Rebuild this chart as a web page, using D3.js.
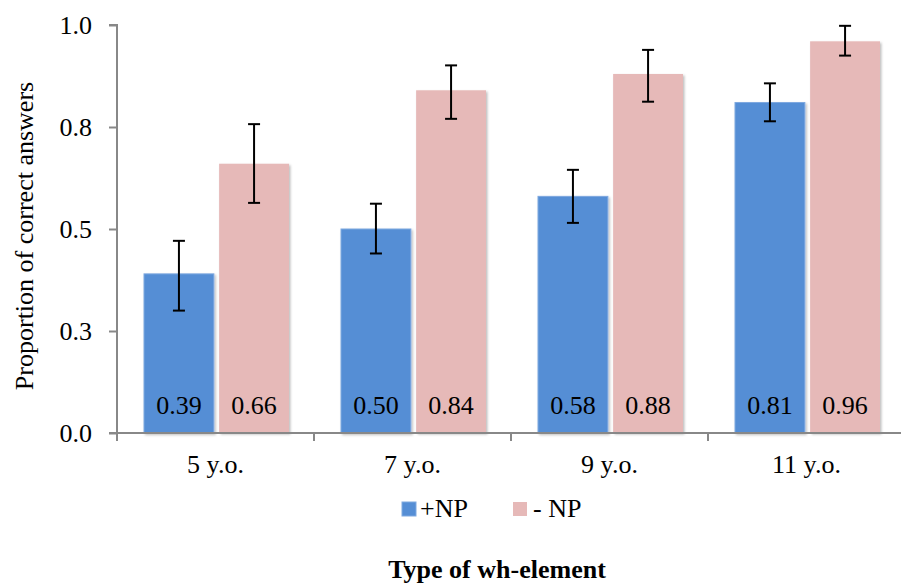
<!DOCTYPE html>
<html><head><meta charset="utf-8">
<script src="https://cdn.jsdelivr.net/npm/d3@7"></script>
<style>
body{margin:0;background:#fff;}
text{font-family:"Liberation Serif","Times New Roman",serif;}
</style></head>
<body><svg id="c" width="901" height="583"></svg>
<script>
const categories = ["5 y.o.", "7 y.o.", "9 y.o.", "11 y.o."];
const seriesNames = ["+NP", "- NP"];
const plusNP = [0.39, 0.50, 0.58, 0.81];
const minusNP = [0.66, 0.84, 0.88, 0.96];
const plusNPLow = [0.30, 0.44, 0.515, 0.764];
const plusNPHigh = [0.471, 0.562, 0.645, 0.857];
const minusNPLow = [0.564, 0.770, 0.812, 0.925];
const minusNPHigh = [0.757, 0.901, 0.939, 0.998];
const yTickValues = [0, 0.25, 0.5, 0.75, 1.0];
const yTickLabels = ["0.0", "0.3", "0.5", "0.8", "1.0"];
const colors = ["#558ED5", "#E6B9B8"];

const FS = 26;
const svg = d3.select("#c");
const mLeft = 117, mRight = 905, mTop = 25, mBottom = 433;

const defs = svg.append("defs");
const f = defs.append("filter").attr("id","sh").attr("x","-10%").attr("y","-10%").attr("width","130%").attr("height","130%");
f.append("feDropShadow").attr("dx",1.5).attr("dy",1.5).attr("stdDeviation",1.2).attr("flood-color","#000").attr("flood-opacity",0.25);

const x0 = d3.scaleBand().domain(categories).range([mLeft, mRight]).padding(0);
const x1 = d3.scaleBand().domain(seriesNames).range([27, 172]).paddingInner(0.07).paddingOuter(0);
const y = d3.scaleLinear().domain([0, 1]).range([mBottom, mTop]);

const data = categories.map((c, i) => ({
  cat: c,
  vals: [
    {s: seriesNames[0], v: plusNP[i], lo: plusNPLow[i], hi: plusNPHigh[i], col: colors[0]},
    {s: seriesNames[1], v: minusNP[i], lo: minusNPLow[i], hi: minusNPHigh[i], col: colors[1]}
  ]
}));

// bars
const g = svg.selectAll("g.cat").data(data).enter().append("g")
  .attr("class","cat").attr("transform", d => `translate(${x0(d.cat)},0)`);
g.selectAll("rect").data(d => d.vals).enter().append("rect")
  .attr("x", d => x1(d.s)).attr("width", x1.bandwidth())
  .attr("y", d => y(d.v)).attr("height", d => y(0) - y(d.v))
  .attr("fill", d => d.col)
  .attr("stroke", (d,i) => i===0 ? "#7FA9E0" : "none").attr("stroke-width", 1)
  .attr("filter","url(#sh)");

// value labels
g.selectAll("text.val").data(d => d.vals).enter().append("text")
  .attr("class","val")
  .attr("x", d => x1(d.s) + x1.bandwidth()/2).attr("y", 414)
  .attr("text-anchor","middle").attr("font-size", FS).attr("fill","#000")
  .text(d => d.v.toFixed(2));

// error bars
const cap = 6;
const eb = g.selectAll("g.eb").data(d => d.vals).enter().append("g").attr("class","eb")
  .attr("stroke","#000").attr("stroke-width",2);
eb.append("line").attr("x1", d => x1(d.s)+x1.bandwidth()/2).attr("x2", d => x1(d.s)+x1.bandwidth()/2)
  .attr("y1", d => y(d.lo)).attr("y2", d => y(d.hi));
eb.append("line").attr("x1", d => x1(d.s)+x1.bandwidth()/2-cap).attr("x2", d => x1(d.s)+x1.bandwidth()/2+cap)
  .attr("y1", d => y(d.lo)).attr("y2", d => y(d.lo));
eb.append("line").attr("x1", d => x1(d.s)+x1.bandwidth()/2-cap).attr("x2", d => x1(d.s)+x1.bandwidth()/2+cap)
  .attr("y1", d => y(d.hi)).attr("y2", d => y(d.hi));

// y axis
const yAxis = d3.axisLeft(y).tickValues(yTickValues).tickSize(8).tickPadding(17)
  .tickFormat((d,i) => yTickLabels[i]);
const ya = svg.append("g").attr("transform", `translate(${mLeft},0)`).call(yAxis);
ya.select(".domain").attr("stroke","#888").attr("stroke-width",2).attr("d", `M-8,${mTop}H0V${mBottom}H-8`);
ya.selectAll(".tick line").attr("stroke","#888").attr("stroke-width",2);
ya.selectAll(".tick text").attr("font-size",FS).attr("fill","#000")
  .attr("font-family","Liberation Serif, serif");

// x axis
const xa = svg.append("g").attr("transform", `translate(0,${mBottom})`);
xa.append("line").attr("x1", mLeft).attr("x2", mRight).attr("stroke","#888").attr("stroke-width",2);
const bounds = categories.map(c => x0(c)).concat([x0(categories[categories.length-1]) + x0.step()]);
xa.selectAll("line.tk").data(bounds).enter().append("line").attr("class","tk")
  .attr("x1", d => d).attr("x2", d => d).attr("y1", 0).attr("y2", 8)
  .attr("stroke","#888").attr("stroke-width",2);
xa.selectAll("text").data(categories).enter().append("text")
  .attr("x", d => x0(d) + x0.bandwidth()/2).attr("y", 40)
  .attr("text-anchor","middle").attr("font-size",FS).attr("fill","#000").text(d => d);

// y title
svg.append("text").attr("transform","translate(33,236) rotate(-90)")
  .attr("text-anchor","middle").attr("font-size",FS).attr("fill","#000")
  .text("Proportion of correct answers");

// legend
const legX = [402, 513];
const leg = svg.selectAll("g.leg").data(seriesNames).enter().append("g").attr("class","leg")
  .attr("transform", (d,i) => `translate(${legX[i]},502)`);
leg.append("rect").attr("width",14).attr("height",14).attr("fill",(d,i)=>colors[i])
  .attr("stroke",(d,i)=> i===0 ? "#7FA9E0" : "none");
leg.append("text").attr("x", (d,i) => i===0 ? 18 : 20).attr("y", 15).attr("font-size",FS).attr("fill","#000").text(d => d);

// x title
svg.append("text").attr("x", 497).attr("y", 578).attr("text-anchor","middle")
  .attr("font-size",FS).attr("font-weight","bold").attr("fill","#000").text("Type of wh-element");
</script></body></html>
